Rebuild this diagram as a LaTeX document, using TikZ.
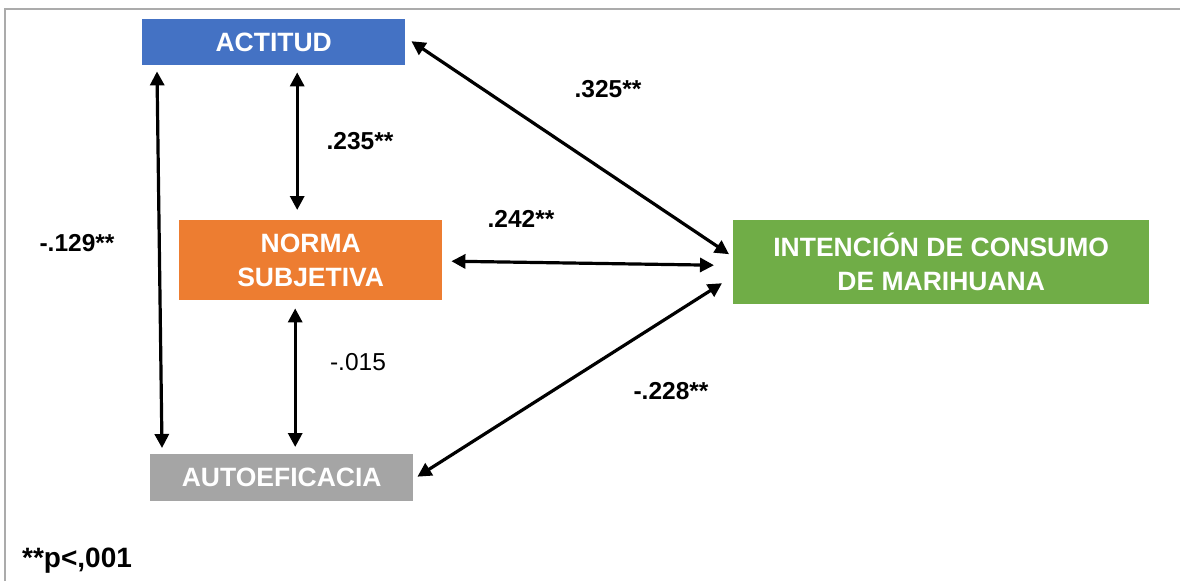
\documentclass[tikz,border=0pt]{standalone}
\usepackage{fontspec}
\setmainfont{Liberation Sans}
\usetikzlibrary{arrows.meta}
\definecolor{cblue}{HTML}{4472C4}
\definecolor{corange}{HTML}{ED7D31}
\definecolor{cgray}{HTML}{A5A5A5}
\definecolor{cgreen}{HTML}{70AD47}
\definecolor{cframe}{HTML}{ABABAB}
\tikzset{
  box/.style={anchor=north west, inner sep=0pt, text=white, font=\fontsize{26.5}{34}\selectfont\bfseries, align=center},
  link/.style={line width=3.2pt, {Triangle[length=14pt,width=14pt]}-{Triangle[length=14pt,width=14pt]}},
  lab/.style={font=\fontsize{24.5}{28}\selectfont\bfseries},
  labn/.style={font=\fontsize{24.5}{28}\selectfont},
}
\begin{document}
\begin{tikzpicture}[x=1pt,y=-1pt]
\useasboundingbox (0,0) rectangle (1180,581);
\draw[cframe, line width=2.5pt] (5,581) -- (5,9) -- (1180,9);
\node[box, fill=cblue, minimum width=263pt, minimum height=46pt] (act) at (142,19) {ACTITUD};
\node[box, fill=corange, minimum width=263pt, minimum height=80pt] (norma) at (179,220) {NORMA\\SUBJETIVA};
\node[box, fill=cgray, minimum width=263pt, minimum height=47pt] (auto) at (150,454) {AUTOEFICACIA};
\node[box, fill=cgreen, minimum width=416pt, minimum height=84pt] (int) at (733,220) {INTENCIÓN DE CONSUMO\\DE MARIHUANA};

\draw[link] ([xshift=15pt,yshift=-6pt]act.south west) -- ([xshift=12pt,yshift=6pt]auto.north west);
\draw[link] ([xshift=23.5pt,yshift=-7pt]act.south) -- ([xshift=-13.5pt,yshift=10pt]norma.north);
\draw[link] ([xshift=-15.5pt,yshift=-8pt]norma.south) -- ([xshift=13.5pt,yshift=7pt]auto.north);
\draw[link] ([xshift=6pt,yshift=1pt]act.east) -- ([xshift=-4pt,yshift=8pt]int.west);
\draw[link] ([xshift=9pt,yshift=-1pt]norma.east) -- ([xshift=-19pt,yshift=-3pt]int.west);
\draw[link] ([xshift=4pt,yshift=1pt]auto.east) -- ([xshift=-11pt,yshift=-21pt]int.west);

\node[lab] (l1) at (608,89) {.325**};
\node[lab] (l2) at (360,141) {.235**};
\node[lab] (l3) at (521,219) {.242**};
\node[lab] (l4) at (77,243) {-.129**};
\node[labn] (l5) at (358,362) {-.015};
\node[lab] (l6) at (671,391) {-.228**};
\node[lab, font=\fontsize{28}{32}\selectfont\bfseries, anchor=west, inner sep=0pt] (note) at (22,561) {**p<,001};
\end{tikzpicture}
\end{document}
